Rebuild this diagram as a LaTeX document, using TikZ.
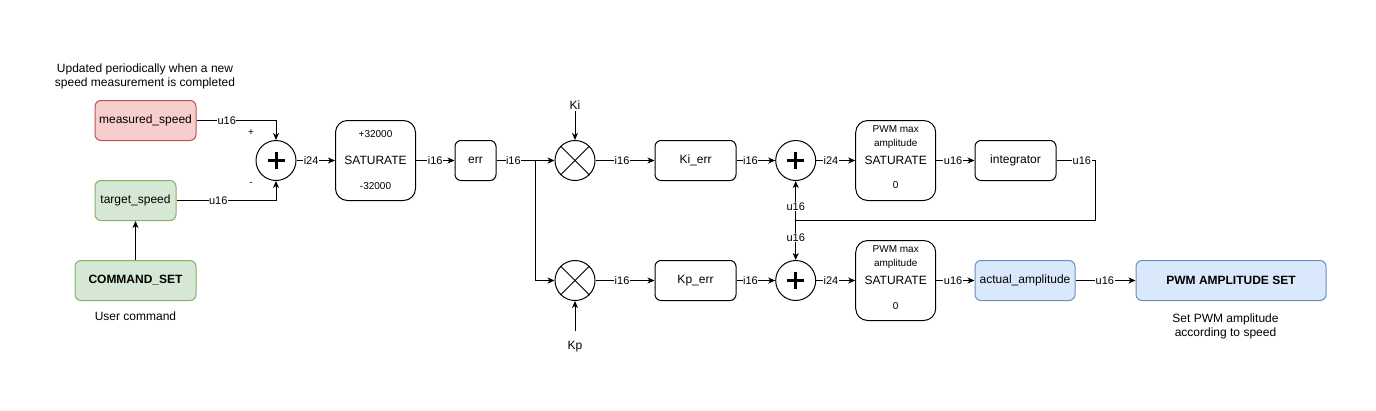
\documentclass[tikz,border=0pt]{standalone}
\usepackage{fontspec}
\setmainfont{Liberation Sans}
\usetikzlibrary{arrows.meta}
\definecolor{redfill}{HTML}{F8CECC}
\definecolor{redline}{HTML}{B85450}
\definecolor{greenfill}{HTML}{D5E8D4}
\definecolor{greenline}{HTML}{82B366}
\definecolor{bluefill}{HTML}{DAE8FC}
\definecolor{blueline}{HTML}{6C8EBF}
\begin{document}
\begin{tikzpicture}[x=1pt,y=-1pt,line width=1pt,font=\fontsize{12}{14}\selectfont,
  box/.style={draw,rounded corners=6pt,minimum height=40pt,inner sep=0pt},
  satbox/.style={draw,rounded corners=12pt,minimum width=80pt,minimum height=80pt,inner sep=0pt},
  opcirc/.style={draw,circle,minimum size=40pt,inner sep=0pt},
  small/.style={font=\fontsize{10}{14}\selectfont,inner sep=0pt,align=center},
  lbl/.style={fill=white,font=\fontsize{11}{13}\selectfont,inner sep=0.5pt},
  arr/.style={-{Stealth[length=7pt,width=6pt,inset=2pt]}}]
  \useasboundingbox (0,0) rectangle (1376,410);
  % notes
  \node[align=center] (updnote) at (145,76) {Updated periodically when a new\\speed measurement is completed};
  \node (usrnote) at (135.5,316) {User command};
  \node[align=center] (setnote) at (1225.5,326) {Set PWM amplitude\\according to speed};
  % blocks
  \node[box,minimum width=101pt,fill=redfill,draw=redline] (meas) at (145.5,120.5) {measured\_speed};
  \node[box,minimum width=81pt,fill=greenfill,draw=greenline] (target) at (135.5,200.5) {target\_speed};
  \node[box,minimum width=121pt,fill=greenfill,draw=greenline,font=\fontsize{12}{14}\selectfont\bfseries] (cmdset) at (135.5,280.5) {COMMAND\_SET};
  \node[opcirc] (s1) at (276,160.5) {};
  \node[satbox] (sat1) at (375.5,160.5) {SATURATE};
  \node[small] (sat1hi) at (375.5,134) {+32000};
  \node[small] (sat1lo) at (375.5,186) {-32000};
  \node[box,minimum width=41pt] (err) at (475.5,160.5) {err};
  \node[opcirc] (m1) at (575,160.5) {};
  \node[opcirc] (m2) at (575,280.5) {};
  \node[inner sep=0pt,minimum height=11pt] (ki) at (575,105) {Ki};
  \node[inner sep=0pt,minimum height=31pt] (kp) at (575,346.5) {Kp};
  \node[box,minimum width=81pt] (kierr) at (695.5,160.5) {Ki\_err};
  \node[box,minimum width=81pt] (kperr) at (695.5,280.5) {Kp\_err};
  \node[opcirc] (s2) at (795.7,160.5) {};
  \node[opcirc] (s3) at (795.7,280.5) {};
  \node[satbox] (sat2) at (895.7,160.5) {SATURATE};
  \node[small] (sat2hi) at (895.7,137) {PWM max\\amplitude};
  \node[small] (sat2lo) at (895.7,185) {0};
  \node[satbox] (sat3) at (895.7,280.5) {SATURATE};
  \node[small] (sat3hi) at (895.7,257.5) {PWM max\\amplitude};
  \node[small] (sat3lo) at (895.7,306.5) {0};
  \node[box,minimum width=81pt] (integ) at (1015.5,160.5) {integrator};
  \node[box,minimum width=100pt,fill=bluefill,draw=blueline] (ampl) at (1025,280.5) {actual\_amplitude};
  \node[box,minimum width=190pt,fill=bluefill,draw=blueline,font=\fontsize{12}{14}\selectfont\bfseries] (pwmset) at (1231,280.5) {PWM AMPLITUDE SET};
  % symbols in the circles
  \foreach \s in {s1,s2,s3}
    \draw[line width=3pt] ([xshift=-8.5pt]\s.center) -- ([xshift=8.5pt]\s.center)
      ([yshift=-8.5pt]\s.center) -- ([yshift=8.5pt]\s.center);
  \foreach \m in {m1,m2}
    \draw (\m.north east) -- (\m.south west) (\m.north west) -- (\m.south east);
  \node[small] (plus) at (251,133) {+};
  \node[small] (minus) at (251,184) {-};
  % connectors
  \draw[arr] (meas.east) -| node[lbl,pos=0.19]{u16} (s1.north);
  \draw[arr] (target.east) -| node[lbl,pos=0.21]{u16} (s1.south);
  \draw[arr] (cmdset.north) -- (target.south);
  \draw[arr] (s1.east) -- node[lbl,pos=0.38]{i24} (sat1.west);
  \draw[arr] (sat1.east) -- node[lbl]{i16} (err.west);
  \coordinate (split) at (535.7,160.5);
  \draw[arr] (err.east) -- node[lbl,pos=0.43]{i16} (split) -- (m1.west);
  \draw[arr] (split) |- (m2.west);
  \draw[arr] (ki.south) -- (m1.north);
  \draw[arr] (kp.north) -- (m2.south);
  \draw[arr] (m1.east) -- node[lbl,pos=0.45]{i16} (kierr.west);
  \draw[arr] (m2.east) -- node[lbl,pos=0.45]{i16} (kperr.west);
  \draw[arr] (kierr.east) -- node[lbl,pos=0.36]{i16} (s2.west);
  \draw[arr] (kperr.east) -- node[lbl,pos=0.36]{i16} (s3.west);
  \draw[arr] (s2.east) -- node[lbl,pos=0.38]{i24} (sat2.west);
  \draw[arr] (s3.east) -- node[lbl,pos=0.38]{i24} (sat3.west);
  \draw[arr] (sat2.east) -- node[lbl,pos=0.44]{u16} (integ.west);
  \draw[arr] (sat3.east) -- node[lbl,pos=0.44]{u16} (ampl.west);
  \coordinate (fb) at (1095,220);
  \coordinate (fbsplit) at (795.7,220);
  \draw (integ.east) -| node[lbl,pos=0.33]{u16} (fb) -- (fbsplit);
  \draw[arr] (fbsplit) -- node[lbl,pos=0.34]{u16} (s2.south);
  \draw[arr] (fbsplit) -- node[lbl,pos=0.44]{u16} (s3.north);
  \draw[arr] (ampl.east) -- node[lbl,pos=0.49]{u16} (pwmset.west);
\end{tikzpicture}
\end{document}
